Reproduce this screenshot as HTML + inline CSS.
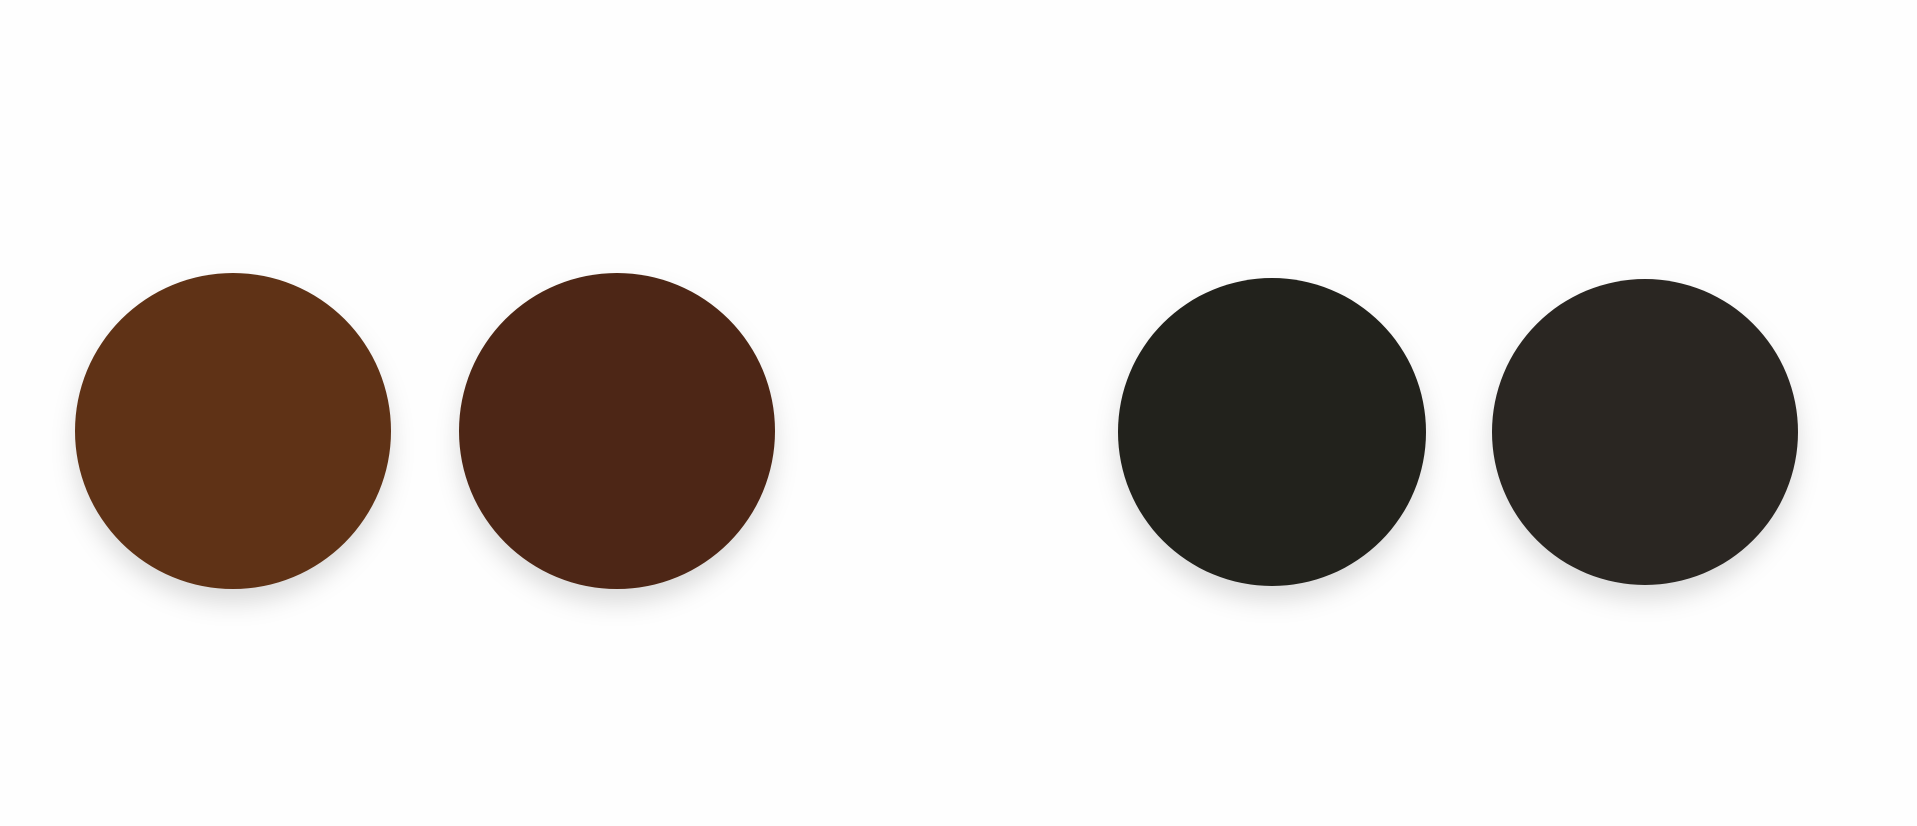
<!DOCTYPE html>
<html><head><meta charset="utf-8"><style>
html,body{margin:0;padding:0;background:#fefefe;width:1917px;height:826px;overflow:hidden;font-family:"Liberation Sans",sans-serif}
</style></head><body>
<svg id="chart" width="1917" height="826" xmlns="http://www.w3.org/2000/svg">
<defs><filter id="sh" x="-30%" y="-30%" width="160%" height="170%"><feDropShadow dx="0" dy="14" stdDeviation="12" flood-color="#000" flood-opacity="0.14"/></filter></defs>
</svg>
<script>
const swatchNames = ['brown-light','brown-dark','black-warm','black-brown'];
const swatchColors = ['#5e3216','#4e2813','#22201c','#2a2622'];
const swatchCx = [233, 617, 1272, 1645];
const swatchCy = [431, 431, 432, 432];
const swatchR = [158, 158, 154, 153];
const svg = document.getElementById('chart');
for (let i = 0; i < swatchColors.length; i++) {
  const c = document.createElementNS('http://www.w3.org/2000/svg','circle');
  c.setAttribute('cx', swatchCx[i]);
  c.setAttribute('cy', swatchCy[i]);
  c.setAttribute('r', swatchR[i]);
  c.setAttribute('fill', swatchColors[i]);
  c.setAttribute('filter', 'url(#sh)');
  
  
  svg.appendChild(c);
}
</script>
</body></html>
